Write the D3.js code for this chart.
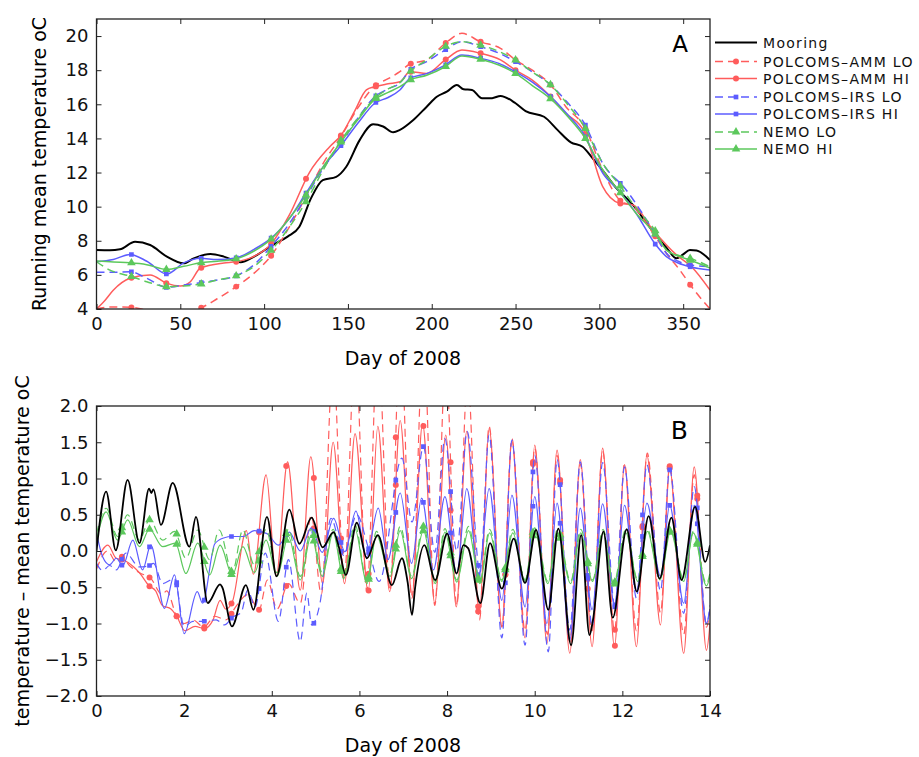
<!DOCTYPE html>
<html><head><meta charset="utf-8">
<script src="https://cdn.jsdelivr.net/npm/d3@7"></script>
<style>
html,body{margin:0;padding:0;background:#fff;}
svg{display:block;font-family:"DejaVu Sans",sans-serif;}
</style></head>
<body>
<svg id="chart" width="919" height="757"></svg>
<script>
// ---------------- DATA ----------------
const seriesNames = ["Mooring","POLCOMS\u2013AMM LO","POLCOMS\u2013AMM HI","POLCOMS\u2013IRS LO","POLCOMS\u2013IRS HI","NEMO LO","NEMO HI"];
const xTicksA = [0,50,100,150,200,250,300,350];
const yTicksA = [4,6,8,10,12,14,16,18,20];
const xTicksB = [0,2,4,6,8,10,12,14];
const yTicksB = [-2,-1.5,-1,-0.5,0,0.5,1,1.5,2];

// Panel A: running mean temperature, [day, degC]
const mooringA = [[0,7.46],[8,7.45],[14,7.5],[23,7.94],[32,7.75],[42,7.07],[52,6.68],[58,6.97],[68,7.22],[76,7.07],[86,6.74],[94,7.07],[105,7.75],[114,8.24],[121,8.82],[128,10.5],[135,11.56],[143,11.75],[149,12.34],[157,13.9],[165,14.83],[171,14.7],[177,14.36],[181,14.5],[189,15.08],[197,15.86],[203,16.44],[209,16.74],[215,17.13],[219,16.88],[224,16.84],[230,16.35],[236,16.36],[241,16.49],[250,16.06],[256,15.6],[267,15.27],[275,14.5],[283,13.77],[290,13.51],[296,12.83],[303,12.0],[310,11.1],[320,10.1],[330,8.8],[340,7.6],[346,6.97],[350,7.2],[354,7.46],[358,7.43],[366,6.87]];
const ammLoA = [[0,4.0],[8,4.12],[20,4.1],[26,4.02],[30,3.9],[45,3.7],[56,3.9],[62,4.06],[72,4.6],[83,5.29],[94,6.1],[104,7.1],[115,8.8],[125,10.6],[135,12.5],[146,14.14],[156,15.8],[166,17.07],[174,17.5],[181,17.91],[187,18.36],[197,18.6],[208,19.57],[218,20.16],[229,19.67],[241,19.28],[250,18.6],[260,18.0],[271,17.13],[280,15.86],[291,14.69],[302,12.15],[312,10.39],[320,10.0],[332,8.45],[340,7.27],[348,6.28],[355,5.31],[366,4.0]];
const ammHiA = [[0,4.0],[5,4.5],[10,5.1],[20,5.8],[32,6.0],[42,5.5],[50,5.35],[56,5.6],[62,6.4],[76,6.7],[83,6.77],[92,7.0],[104,7.8],[115,9.5],[127,12.0],[139,13.5],[146,14.2],[154,15.6],[161,16.84],[166,17.03],[174,17.2],[181,17.32],[187,17.91],[197,17.81],[208,18.6],[218,19.18],[229,18.99],[241,18.6],[250,18.0],[260,17.42],[271,16.44],[280,15.47],[291,14.39],[302,11.17],[312,10.2],[320,10.1],[332,8.63],[346,7.17],[355,6.48],[366,5.11]];
const irsLoA = [[0,6.15],[10,6.15],[20,6.19],[30,5.8],[42,5.27],[52,5.4],[62,5.54],[72,5.7],[83,5.93],[94,6.6],[104,7.65],[115,9.0],[125,10.58],[135,12.2],[146,13.71],[156,15.2],[166,16.44],[174,16.9],[181,17.25],[187,18.0],[197,18.5],[208,19.18],[218,19.67],[229,19.38],[240,19.0],[250,18.5],[260,17.9],[271,17.13],[281,16.1],[291,14.89],[302,12.54],[316,10.98],[325,9.7],[333,8.44],[340,7.27],[347,6.8],[354,6.58],[366,6.48]];
const irsHiA = [[0,6.77],[10,6.9],[20,7.2],[30,6.8],[42,6.05],[52,6.7],[62,6.97],[72,6.9],[83,6.99],[94,7.5],[104,8.14],[115,9.3],[125,10.8],[135,12.3],[146,13.6],[156,14.9],[166,16.06],[174,16.4],[181,16.84],[187,17.52],[197,17.8],[208,18.3],[218,18.89],[229,18.7],[240,18.4],[250,17.9],[260,17.3],[271,16.44],[281,15.4],[291,14.2],[302,11.97],[312,10.88],[322,9.6],[333,7.85],[340,7.07],[347,6.7],[354,6.48],[366,6.28]];
const nemoLoA = [[0,6.77],[8,6.28],[20,5.93],[30,5.6],[42,5.31],[52,5.35],[62,5.46],[72,5.7],[83,5.93],[94,6.5],[104,7.42],[115,8.8],[125,10.29],[135,12.1],[146,13.9],[156,15.2],[166,16.35],[174,16.9],[181,17.27],[187,17.9],[197,18.6],[208,19.38],[218,19.67],[229,19.47],[240,19.1],[250,18.6],[260,17.9],[271,17.13],[281,16.0],[291,14.69],[302,12.54],[312,11.27],[322,9.9],[333,8.63],[340,7.46],[347,7.15],[354,6.97],[366,6.48]];
const nemoHiA = [[0,6.81],[10,6.75],[20,6.71],[30,6.6],[42,6.32],[52,6.5],[62,6.71],[72,6.8],[83,6.93],[94,7.4],[104,8.08],[115,9.3],[125,10.68],[135,12.3],[146,13.81],[156,15.1],[166,16.29],[174,16.7],[181,17.03],[187,17.42],[197,17.7],[208,18.2],[218,18.83],[229,18.64],[240,18.3],[250,17.81],[260,17.1],[271,16.31],[281,15.3],[291,14.1],[302,12.15],[312,10.88],[322,9.6],[333,8.44],[340,7.46],[347,7.1],[354,6.87],[366,6.4]];
const markerDaysA = [20.83,41.67,62.5,83.33,104.17,125,145.83,166.67,187.5,208.33,229.17,250,270.83,291.67,312.5,333.33,354.17];

// Panel B: temperature minus mean, [day, degC]
const mooringB = [[0,0.0],[0.22,0.82],[0.44,0.01],[0.71,0.98],[0.98,0.11],[1.2,0.86],[1.25,0.8],[1.3,0.85],[1.47,0.36],[1.74,0.94],[2.12,0.06],[2.27,0.47],[2.54,-0.72],[2.6,-0.68],[2.82,-0.46],[2.87,-0.5],[3.09,-1.04],[3.41,-0.47],[3.58,-0.81],[3.89,0.47],[4.11,-0.35],[4.40,0.57],[4.63,0.10],[4.91,0.46],[5.16,0.05],[5.41,0.26],[5.52,0.08],[5.69,-0.33],[5.94,0.39],[6.17,-0.10],[6.42,0.22],[6.74,-0.47],[6.97,-0.10],[7.1,-0.43],[7.2,-0.88],[7.27,-0.51],[7.48,0.08],[7.73,-0.40],[8.0,0.24],[8.22,-0.31],[8.37,0.08],[8.48,0.04],[8.76,-0.72],[8.98,0.11],[9.25,-0.52],[9.52,0.17],[9.78,-0.44],[10.03,0.29],[10.31,-0.81],[10.54,0.31],[10.83,-1.30],[11.06,0.22],[11.25,-1.16],[11.33,-0.95],[11.57,0.27],[11.78,-0.92],[12.1,0.30],[12.33,-0.56],[12.6,0.48],[12.85,-0.38],[13.12,0.46],[13.35,-0.40],[13.66,0.61],[13.89,-0.15],[14,0.08]];
const ammLoB = [[0,-0.25],[0.25,0.0],[0.45,-0.15],[0.58,-0.08],[0.75,-0.2],[0.98,-0.3],[1.24,-0.38],[1.5,-0.6],[1.6,-0.55],[1.83,-0.9],[2.0,-1.0],[2.2,-0.95],[2.45,-1.05],[2.7,-0.9],[2.95,-0.95],[3.2,-0.75],[3.45,-0.6],[3.71,-0.81],[3.9,-0.4],[4.12,-0.8],[4.38,-0.45],[4.65,-0.72],[4.9,0.5],[5.13,-0.6],[5.4,2.6],[5.65,-0.4],[5.9,2.8],[6.17,-0.55],[6.42,2.9],[6.7,-0.55],[6.93,3.0],[7.2,-0.65],[7.46,2.9],[7.72,-0.75],[7.97,2.6],[8.22,-0.75],[8.47,2.4],[8.74,-0.95],[8.96,1.72],[9.25,-1.05],[9.48,1.55],[9.78,-1.1],[10.0,1.42],[10.29,-1.15],[10.51,1.32],[10.8,-1.25],[11.04,1.2],[11.31,-1.1],[11.55,1.38],[11.82,-1.1],[12.05,1.2],[12.32,-1.1],[12.57,1.35],[12.87,-0.85],[13.08,1.17],[13.4,-1.15],[13.64,1.05],[13.92,-1.05],[14,-0.8]];
const ammHiB = [[0,-0.15],[0.26,0.08],[0.45,-0.1],[0.6,-0.12],[0.85,-0.22],[0.98,-0.3],[1.2,-0.48],[1.35,-0.55],[1.5,-0.75],[1.7,-0.8],[1.83,-0.9],[2.02,-1.1],[2.25,-1.04],[2.46,-1.07],[2.66,-0.95],[2.82,-0.68],[2.95,-0.8],[3.1,-0.7],[3.42,0.28],[3.58,-0.32],[3.87,1.05],[4.1,-0.35],[4.36,1.23],[4.65,-0.54],[4.89,1.30],[5.16,-0.45],[5.4,1.5],[5.66,-0.45],[5.9,1.62],[6.2,-0.56],[6.42,1.72],[6.69,-0.56],[6.93,1.8],[7.2,-0.61],[7.44,1.76],[7.72,-0.72],[7.97,1.6],[8.21,-0.77],[8.45,1.65],[8.74,-0.84],[8.96,1.69],[9.25,-1.04],[9.48,1.51],[9.78,-1.2],[10.0,1.46],[10.28,-1.27],[10.51,1.39],[10.8,-1.41],[11.04,1.26],[11.31,-1.32],[11.55,1.42],[11.82,-1.32],[12.05,1.19],[12.32,-1.32],[12.56,1.32],[12.87,-1.02],[13.08,1.14],[13.4,-1.41],[13.64,1.16],[13.92,-1.37],[14,-1.0]];
const irsLoB = [[0,-0.17],[0.14,-0.27],[0.3,-0.2],[0.45,-0.26],[0.67,-0.03],[0.98,-0.22],[1.21,-0.2],[1.3,-0.17],[1.51,-0.45],[1.78,-0.38],[2.0,-1.04],[2.2,-0.97],[2.42,-0.97],[2.73,-0.95],[2.92,-1.02],[3.11,-0.91],[3.3,-0.85],[3.45,-0.54],[3.62,-0.77],[3.85,-0.03],[4.15,-0.97],[4.38,-0.12],[4.65,-1.25],[4.8,-0.58],[4.91,-1.02],[5.1,-0.72],[5.35,0.45],[5.64,-0.06],[5.94,0.5],[6.2,0.05],[6.45,-0.42],[6.97,1.28],[7.2,0.4],[7.46,1.44],[7.72,-0.02],[7.95,1.55],[8.22,0.0],[8.46,1.65],[8.75,-0.3],[8.96,1.6],[9.25,-1.2],[9.48,1.53],[9.78,-1.3],[10.0,1.32],[10.31,-1.39],[10.51,1.26],[10.8,-1.09],[11.04,1.23],[11.31,-1.04],[11.55,1.22],[11.83,-0.77],[12.05,1.16],[12.32,-0.65],[12.56,1.19],[12.87,-0.55],[13.08,1.12],[13.4,-0.86],[13.64,0.89],[13.92,-1.0],[14,-0.75]];
const irsHiB = [[0,0.25],[0.14,-0.08],[0.3,-0.19],[0.45,-0.1],[0.6,-0.2],[0.83,0.15],[1.05,-0.26],[1.24,0.08],[1.55,-0.79],[1.78,-0.33],[2.0,-1.14],[2.3,-0.56],[2.42,-0.72],[2.7,0.1],[2.9,0.18],[3.1,0.2],[3.35,0.2],[3.6,0.28],[3.89,0.24],[4.15,0.08],[4.4,0.26],[4.65,0.0],[4.9,0.32],[5.15,-0.02],[5.41,0.45],[5.67,-0.01],[5.92,0.55],[6.16,-0.08],[6.43,0.59],[6.65,-0.12],[6.93,0.8],[7.19,-0.17],[7.42,0.73],[7.69,-0.26],[7.95,0.75],[8.22,-0.31],[8.45,0.86],[8.72,-0.33],[8.96,0.86],[9.25,-0.68],[9.48,0.77],[9.78,-0.77],[10.0,0.75],[10.28,-1.0],[10.51,0.66],[10.8,-1.23],[11.04,0.59],[11.31,-0.81],[11.55,0.65],[11.82,-0.75],[12.05,0.63],[12.32,-0.56],[12.56,0.66],[12.87,-0.35],[13.08,0.63],[13.4,-0.72],[13.64,0.63],[13.92,-1.0],[14,-0.8]];
const nemoLoB = [[0,0.24],[0.22,0.59],[0.48,0.2],[0.71,0.5],[0.98,0.15],[1.21,0.43],[1.51,0.15],[1.78,0.27],[2.04,-0.1],[2.31,0.29],[2.58,-0.12],[2.8,0.29],[3.1,-0.29],[3.34,0.29],[3.6,-0.19],[3.87,0.3],[4.12,-0.3],[4.38,0.3],[4.65,-0.35],[4.9,0.3],[5.15,-0.3],[5.4,0.3],[5.64,-0.35],[5.9,0.36],[6.17,-0.42],[6.39,0.27],[6.7,-0.31],[6.93,0.34],[7.19,-0.35],[7.46,0.34],[7.73,-0.42],[7.95,0.31],[8.22,-0.4],[8.49,0.34],[8.75,-0.42],[8.97,0.3],[9.25,-0.4],[9.5,0.3],[9.78,-0.4],[10.0,0.32],[10.3,-0.42],[10.52,0.3],[10.82,-0.42],[11.05,0.3],[11.32,-0.4],[11.56,0.3],[11.8,-0.45],[12.08,0.3],[12.35,-0.4],[12.57,0.3],[12.86,-0.38],[13.1,0.3],[13.4,-0.4],[13.62,0.27],[13.92,-0.45],[14,-0.3]];
const nemoHiB = [[0,0.15],[0.22,0.54],[0.48,0.15],[0.71,0.43],[0.98,0.06],[1.21,0.3],[1.51,0.06],[1.8,0.11],[2.04,-0.31],[2.31,0.11],[2.58,-0.33],[2.82,0.08],[3.1,-0.33],[3.34,0.06],[3.6,-0.3],[3.87,0.15],[4.12,-0.35],[4.38,0.2],[4.65,-0.4],[4.9,0.22],[5.15,-0.35],[5.4,0.25],[5.64,-0.38],[5.9,0.3],[6.17,-0.45],[6.39,0.22],[6.7,-0.35],[6.93,0.28],[7.19,-0.38],[7.46,0.28],[7.73,-0.45],[7.95,0.26],[8.22,-0.43],[8.49,0.28],[8.75,-0.45],[8.97,0.25],[9.25,-0.42],[9.5,0.25],[9.78,-0.42],[10.0,0.27],[10.3,-0.45],[10.52,0.25],[10.82,-0.45],[11.05,0.25],[11.32,-0.42],[11.56,0.25],[11.8,-0.48],[12.08,0.25],[12.35,-0.42],[12.57,0.27],[12.86,-0.4],[13.1,0.27],[13.4,-0.42],[13.62,0.25],[13.92,-0.48],[14,-0.35]];
const markerDaysB = [0.58,1.21,1.83,2.46,3.08,3.71,4.33,4.96,5.58,6.21,6.83,7.46,8.08,8.71,9.33,9.96,10.58,11.21,11.83,12.46,13.08,13.71];

// ---------------- STYLES ----------------
const RED = "#ff5c5c", BLUE = "#5c5cff", GREEN = "#5cc85c";
const styles = [
  {color:"#000", dash:null, marker:null},
  {color:RED, dash:"8,5", marker:"circle"},
  {color:RED, dash:null, marker:"circle"},
  {color:BLUE, dash:"8,5", marker:"square"},
  {color:BLUE, dash:null, marker:"square"},
  {color:GREEN, dash:"8,5", marker:"triangle"},
  {color:GREEN, dash:null, marker:"triangle"}
];

const svg = d3.select("#chart");
const FONT = "DejaVu Sans, sans-serif";

function markerPath(type){
  if(type==="circle") return d3.symbol(d3.symbolCircle, 28)();
  if(type==="square") return d3.symbol(d3.symbolSquare, 22)();
  if(type==="triangle") return d3.symbol(d3.symbolTriangle, 32)();
  return null;
}

function pointAtX(node, xt){
  const L = node.getTotalLength();
  let lo=0, hi=L;
  for(let i=0;i<40;i++){
    const mid=(lo+hi)/2;
    if(node.getPointAtLength(mid).x < xt) lo=mid; else hi=mid;
  }
  return node.getPointAtLength(hi);
}

function panel(opts){
  const {id, xDom, yDom, left, right, top, bottom, xTicks, yTicks, yFmt, data, markerDays, lw, blackW, order} = opts;
  const x = d3.scaleLinear().domain(xDom).range([left,right]);
  const y = d3.scaleLinear().domain(yDom).range([bottom,top]);
  const g = svg.append("g");
  g.append("clipPath").attr("id","clip"+id).append("rect")
    .attr("x",left).attr("y",top).attr("width",right-left).attr("height",bottom-top);
  const plot = g.append("g").attr("clip-path","url(#clip"+id+")");
  const line = d3.line().x(d=>x(d[0])).y(d=>y(d[1])).curve(d3.curveMonotoneX);
  order.forEach(i=>{
    const s = styles[i];
    const p = plot.append("path").datum(data[i]).attr("d",line)
      .attr("fill","none").attr("stroke",s.color)
      .attr("stroke-width", i===0 ? blackW : lw)
      .attr("stroke-linejoin","round")
      .attr("stroke-dasharray", s.dash);
    if(s.marker){
      const node = p.node();
      markerDays.forEach(t=>{
        const pt = pointAtX(node, x(t));
        plot.append("path").attr("d", markerPath(s.marker))
          .attr("transform",`translate(${pt.x},${pt.y})`)
          .attr("fill",s.color);
      });
    }
  });
  // axes with inward ticks
  const ax = g.append("g").attr("font-family",FONT);
  const bAx = ax.append("g").attr("transform",`translate(0,${bottom})`)
    .call(d3.axisBottom(x).tickValues(xTicks).tickSizeInner(-5).tickSizeOuter(0).tickPadding(8).tickFormat(d3.format("d")));
  const tAx = ax.append("g").attr("transform",`translate(0,${top})`)
    .call(d3.axisTop(x).tickValues(xTicks).tickSizeInner(-5).tickSizeOuter(0).tickFormat(""));
  const lAx = ax.append("g").attr("transform",`translate(${left},0)`)
    .call(d3.axisLeft(y).tickValues(yTicks).tickSizeInner(-5).tickSizeOuter(0).tickPadding(8).tickFormat(yFmt));
  const rAx = ax.append("g").attr("transform",`translate(${right},0)`)
    .call(d3.axisRight(y).tickValues(yTicks).tickSizeInner(-5).tickSizeOuter(0).tickFormat(""));
  [bAx,tAx,lAx,rAx].forEach(a=>{a.select(".domain").remove(); a.selectAll("line").attr("stroke","#222");});
  ax.selectAll("text").attr("font-size",18).attr("fill","#111").attr("font-family",FONT);
  g.append("rect").attr("x",left).attr("y",top).attr("width",right-left).attr("height",bottom-top)
    .attr("fill","none").attr("stroke","#222").attr("stroke-width",1.3);
  return {x,y,g};
}

const A = panel({id:"A", xDom:[0,366], yDom:[4,21], left:96.5, right:710, top:19, bottom:309,
  xTicks:xTicksA, yTicks:yTicksA, yFmt:d3.format("d"),
  data:[mooringA,ammLoA,ammHiA,irsLoA,irsHiA,nemoLoA,nemoHiA], markerDays:markerDaysA, lw:1.5, blackW:2,
  order:[0,1,2,3,4,5,6]});
const B = panel({id:"B", xDom:[0,14], yDom:[-2,2], left:96.5, right:710, top:406, bottom:696,
  xTicks:xTicksB, yTicks:yTicksB, yFmt:d3.format(".1f"),
  data:[mooringB,ammLoB,ammHiB,irsLoB,irsHiB,nemoLoB,nemoHiB], markerDays:markerDaysB, lw:1.2, blackW:1.8,
  order:[1,2,3,4,5,6,0]});

// panel letters
svg.append("text").attr("x",688).attr("y",52).attr("text-anchor","end")
  .attr("font-size",23).attr("font-family",FONT).text("A");
svg.append("text").attr("x",688).attr("y",439).attr("text-anchor","end")
  .attr("font-size",25).attr("font-family",FONT).text("B");

// axis titles
svg.append("text").attr("x",403).attr("y",365).attr("text-anchor","middle")
  .attr("font-size",19).attr("font-family",FONT).text("Day of 2008");
svg.append("text").attr("x",403).attr("y",752).attr("text-anchor","middle")
  .attr("font-size",19).attr("font-family",FONT).text("Day of 2008");
svg.append("text").attr("transform","translate(46,164) rotate(-90)").attr("text-anchor","middle")
  .attr("font-size",19).attr("font-family",FONT).text("Running mean temperature oC");
svg.append("text").attr("transform","translate(29,551) rotate(-90)").attr("text-anchor","middle")
  .attr("font-size",19).attr("font-family",FONT).text("temperature \u2013 mean temperature oC");

// legend
const legRows = [42.5,61.5,78.5,97,114,132,149];
const leg = svg.append("g");
seriesNames.forEach((name,i)=>{
  const s = styles[i], yy = legRows[i];
  leg.append("line").attr("x1",715).attr("x2",757).attr("y1",yy).attr("y2",yy)
    .attr("stroke",s.color).attr("stroke-width", i===0?2:1.5).attr("stroke-dasharray", s.dash);
  if(s.marker) leg.append("path").attr("d",markerPath(s.marker))
    .attr("transform",`translate(736,${yy})`).attr("fill",s.color);
  leg.append("text").attr("x",763).attr("y",yy).attr("dy","0.36em")
    .attr("font-size",14).attr("letter-spacing","1.3px")
    .attr("font-family",FONT).attr("fill","#111").text(name);
});
</script>
</body></html>
